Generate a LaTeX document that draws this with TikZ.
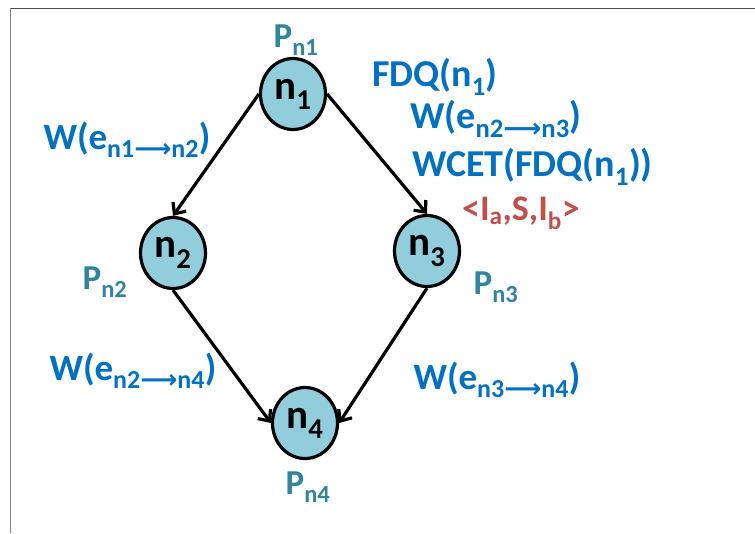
\documentclass[tikz,border=0pt]{standalone}
\usepackage{fontspec}
\setmainfont{Carlito}
\newfontfamily\arrowfont{DejaVu Sans}
\usetikzlibrary{arrows.meta, positioning, shapes.geometric}

\definecolor{labelblue}{HTML}{0070C0}
\definecolor{procteal}{HTML}{31849B}
\definecolor{tuplered}{HTML}{C0504D}
\definecolor{taskfill}{HTML}{92CDDC}

\newcommand{\low}[1]{\textsubscript{#1}}
\newcommand{\edgeto}{{\arrowfont ⟶}}

\tikzset{
  task/.style={ellipse, draw, line width=3.2pt, fill=taskfill, minimum width=65pt,
    minimum height=71pt, inner sep=0pt, font=\fontsize{41}{41}\selectfont\bfseries},
  wlabel/.style={text=labelblue, inner sep=0pt, font=\fontsize{37}{37}\selectfont\bfseries},
  plabel/.style={text=procteal, inner sep=0pt, font=\fontsize{35}{35}\selectfont\bfseries},
}

\begin{document}
\begin{tikzpicture}[x=1pt, y=-1pt, node distance=1cm, on grid, >={Straight Barb[length=9pt,width=16pt]}]
  \useasboundingbox (0,0) rectangle (755,533);
  \draw[line width=1pt, black!70] (10,8) -- (755,8);
  \draw[line width=1pt, black!50] (10,8) -- (10,533);

  \node[task] (n1) at (293,94) {n\low{1}};
  \node[task] (n2) [below left=159pt and 120pt of n1] {n\low{2}};
  \node[task] (n3) [below right=157pt and 134pt of n1] {n\low{3}};
  \node[task] (n4) [below right=170pt and 132pt of n2] {n\low{4}};

  \draw[->, line width=3.2pt] (n1.west) -- (n2.north);
  \draw[->, line width=3.2pt] (n1.east) -- (n3.north);
  \draw[->, line width=3.2pt] (n2.south) -- (n4.west);
  \draw[->, line width=3.2pt] (n3.south) -- (n4.east);

  % processors
  \node[plabel] (p1) at (296,40) {P\low{n1}};
  \node[plabel] (p2) at (105,282) {P\low{n2}};
  \node[plabel] (p3) at (496,287) {P\low{n3}};
  \node[plabel] (p4) at (308,487) {P\low{n4}};

  % edge weights
  \node[wlabel] (w12) at (127,140) {W(e\low{n1\edgeto n2})};
  \node[wlabel] (w24) at (133,371) {W(e\low{n2\edgeto n4})};
  \node[wlabel] (w34) at (497,380) {W(e\low{n3\edgeto n4})};

  % duplication of n1
  \node[wlabel, anchor=west, font=\fontsize{38}{38}\selectfont\bfseries] (fdq) at (372,77) {FDQ(n\low{1})};
  \node[wlabel, anchor=west, font=\fontsize{38}{38}\selectfont\bfseries] (w23) at (410,119) {W(e\low{n2\edgeto n3})};
  \node[wlabel, anchor=west, font=\fontsize{38}{38}\selectfont\bfseries] (wcet) at (412,167) {WCET(FDQ(n\low{1}))};
  \node[text=tuplered, inner sep=0pt, font=\fontsize{36}{36}\selectfont\bfseries] (tuple) at (521,213) {<I\low{a},S,I\low{b}>};
\end{tikzpicture}
\end{document}
